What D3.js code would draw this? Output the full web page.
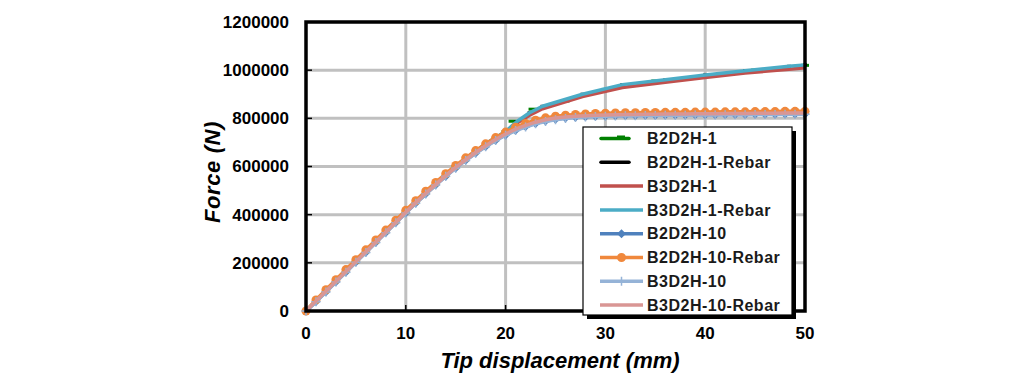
<!DOCTYPE html>
<html>
<head>
<meta charset="utf-8">
<script src="https://cdn.jsdelivr.net/npm/d3@7"></script>
<style>
  body { margin: 0; background: #ffffff; }
  svg { display: block; font-family: "Liberation Sans", Arial, sans-serif; }
</style>
</head>
<body>
<div id="space"></div>
<script>
// Declare constants
const WIDTH = 1012;
const HEIGHT = 387;
const PLOT = { left: 306, right: 805, top: 22, bottom: 311 };
const GRID_COLOR = "#c0c0c0";

// Tick values and labels (force in kN, labels shown in N)
const X_TICKS = [0, 10, 20, 30, 40, 50];
const Y_TICKS = [0, 200, 400, 600, 800, 1000, 1200];
const Y_TICK_LABELS = ["0", "200000", "400000", "600000", "800000", "1000000", "1200000"];

// Displacement points (mm)
const DISP_1 = [0, 5, 10, 15, 18, 20, 21.1, 22.4, 23.7, 27.7, 31.7, 36, 40, 44, 48.4, 50];
const DISP_1_MARK = [0, 5, 10, 15, 20, 20.7, 22.7, 26, 30, 35, 40, 45, 50];
const DISP_10 = [0, 1, 2, 3, 4, 5, 6, 7, 8, 9, 10, 11, 12, 13, 14, 15, 16, 17, 18, 19, 20,
  21, 22, 23, 24, 25, 26, 27, 28, 29, 30, 31, 32, 33, 34, 35, 36, 37, 38, 39, 40,
  41, 42, 43, 44, 45, 46, 47, 48, 49, 50];

// Force values (kN)
const F_B2D2H_1 = [0, 205, 410, 600, 745, 788, 838, 872, 920, 955, 978, 1000, 1020];
const F_B2D2H_1_REBAR = [0, 205, 410, 600, 694, 745, 786, 823, 850, 900, 940, 960, 980, 998, 1016, 1022];
const F_B3D2H_1 = [0, 205, 410, 600, 694, 743, 780, 813, 840, 890, 928, 950, 970, 988, 1004, 1010];
const F_B3D2H_1_REBAR = [0, 205, 410, 600, 694, 745, 786, 823, 850, 900, 940, 960, 980, 998, 1016, 1022];
const F_B2D2H_10 = [0, 39, 80, 121, 162, 203, 244, 285, 326, 367, 408, 448, 487, 524, 560, 594, 626, 656, 683, 709, 731,
  751, 766, 779, 789, 796, 801, 805, 807, 809, 810, 811, 812, 812, 813, 813, 814, 814, 814, 815, 815,
  815, 816, 816, 816, 817, 817, 817, 818, 818, 818];
const F_B2D2H_10_REBAR = [0, 46, 88, 130, 172, 213, 254, 295, 336, 377, 418, 458, 497, 534, 570, 604, 636, 666, 694, 720, 743,
  763, 779, 792, 802, 809, 813, 816, 818, 820, 821, 822, 823, 823, 824, 824, 825, 825, 825, 826, 826,
  826, 827, 827, 827, 828, 828, 828, 829, 829, 829];
const F_B3D2H_10 = [0, 38, 79, 120, 161, 202, 243, 284, 325, 366, 407, 447, 486, 523, 559, 593, 625, 655, 682, 708, 730,
  749, 764, 777, 787, 794, 799, 803, 806, 808, 809, 810, 811, 811, 812, 812, 813, 813, 813, 814, 814,
  814, 815, 815, 815, 816, 816, 816, 817, 817, 817];
const F_B3D2H_10_REBAR = [0, 41, 82, 123, 164, 205, 246, 287, 328, 369, 410, 450, 489, 526, 562, 596, 628, 658, 686, 712, 735,
  755, 771, 784, 794, 801, 806, 809, 811, 813, 814, 815, 816, 816, 817, 817, 818, 818, 818, 819, 819,
  819, 820, 820, 820, 821, 821, 821, 822, 822, 822];

// Series in drawing order
var series = [
  { name: "B2D2H-1", x: DISP_1_MARK, y: F_B2D2H_1, color: "#008000", line: false, marker: "dash" },
  { name: "B2D2H-1-Rebar", x: DISP_1, y: F_B2D2H_1_REBAR, color: "#000000", line: false, marker: "dash" },
  { name: "B3D2H-1", x: DISP_1, y: F_B3D2H_1, color: "#c0504d", line: true, marker: null },
  { name: "B3D2H-1-Rebar", x: DISP_1, y: F_B3D2H_1_REBAR, color: "#4bacc6", line: true, marker: null },
  { name: "B2D2H-10", x: DISP_10, y: F_B2D2H_10, color: "#4f81bd", line: true, marker: "diamond" },
  { name: "B2D2H-10-Rebar", x: DISP_10, y: F_B2D2H_10_REBAR, color: "#f0883c", line: true, marker: "circle" },
  { name: "B3D2H-10", x: DISP_10, y: F_B3D2H_10, color: "#95b3d7", line: true, marker: "plus" },
  { name: "B3D2H-10-Rebar", x: DISP_10, y: F_B3D2H_10_REBAR, color: "#d99694", line: true, marker: null },
];

var svg = d3.select("#space").append("svg").attr("width", WIDTH).attr("height", HEIGHT);

var xScale = d3.scaleLinear().domain([0, 50]).range([PLOT.left, PLOT.right]);
var yScale = d3.scaleLinear().domain([0, 1200]).range([PLOT.bottom, PLOT.top]);

drawGrid();
drawSeries();
drawFrame();
drawLegend();
drawTitles();

/**
 * Gridlines behind the data
 */
function drawGrid() {
  var g = svg.append("g");
  g.selectAll("line.gx")
    .data(X_TICKS.slice(1, -1))
    .enter()
    .append("line")
    .attr("x1", (d) => xScale(d))
    .attr("x2", (d) => xScale(d))
    .attr("y1", PLOT.top)
    .attr("y2", PLOT.bottom)
    .attr("stroke", GRID_COLOR)
    .attr("stroke-width", 3);
  g.selectAll("line.gy")
    .data(Y_TICKS.slice(1, -1))
    .enter()
    .append("line")
    .attr("y1", (d) => yScale(d))
    .attr("y2", (d) => yScale(d))
    .attr("x1", PLOT.left)
    .attr("x2", PLOT.right)
    .attr("stroke", GRID_COLOR)
    .attr("stroke-width", 3);
}

/**
 * Draws one marker shape at (0,0) inside a group
 */
function drawMarker(g, type, color, small) {
  if (type === "dash") {
    g.append("rect").attr("x", small ? -2 : -4).attr("y", -1.5)
      .attr("width", small ? 4 : 8).attr("height", 3).attr("fill", color);
  } else if (type === "diamond") {
    g.append("path").attr("d", "M0,-4.5L4.5,0L0,4.5L-4.5,0Z").attr("fill", color);
  } else if (type === "circle") {
    g.append("circle").attr("r", 4.5).attr("fill", color);
  } else if (type === "plus") {
    g.append("path").attr("d", "M-4.5,0H4.5M0,-4.5V4.5")
      .attr("stroke", color).attr("stroke-width", 1.5).attr("fill", "none");
  }
}

/**
 * Lines and markers for every series
 */
function drawSeries() {
  var line = d3.line()
    .x((d) => xScale(d[0]))
    .y((d) => yScale(d[1]));

  series.forEach(function (s) {
    var pts = s.x.map((v, i) => [v, s.y[i]]);
    var g = svg.append("g");
    if (s.line) {
      g.append("path")
        .attr("d", line(pts))
        .attr("fill", "none")
        .attr("stroke", s.color)
        .attr("stroke-width", 3.5)
        .attr("stroke-linejoin", "round");
    }
    if (s.marker) {
      pts.forEach(function (p) {
        var m = g.append("g").attr("transform", `translate(${xScale(p[0])},${yScale(p[1])})`);
        drawMarker(m, s.marker, s.color, s.name === "B2D2H-1-Rebar");
      });
    }
  });
}

/**
 * Plot frame, inside ticks and tick labels
 */
function drawFrame() {
  svg.append("rect")
    .attr("x", PLOT.left)
    .attr("y", PLOT.top)
    .attr("width", PLOT.right - PLOT.left)
    .attr("height", PLOT.bottom - PLOT.top)
    .attr("fill", "none")
    .attr("stroke", "#000")
    .attr("stroke-width", 3.5);

  // Y ticks and labels
  Y_TICKS.forEach(function (d, i) {
    svg.append("line")
      .attr("x1", PLOT.left).attr("x2", PLOT.left + 6)
      .attr("y1", yScale(d)).attr("y2", yScale(d))
      .attr("stroke", "#000").attr("stroke-width", 1.5);
    svg.append("text")
      .attr("x", 289)
      .attr("y", yScale(d))
      .attr("dy", "0.35em")
      .attr("text-anchor", "end")
      .attr("font-size", 17)
      .attr("font-weight", "bold")
      .attr("fill", "#000")
      .text(Y_TICK_LABELS[i]);
  });

  // X ticks and labels
  X_TICKS.forEach(function (d) {
    svg.append("line")
      .attr("x1", xScale(d)).attr("x2", xScale(d))
      .attr("y1", PLOT.bottom).attr("y2", PLOT.bottom - 6)
      .attr("stroke", "#000").attr("stroke-width", 1.5);
    svg.append("text")
      .attr("x", xScale(d))
      .attr("y", 338.5)
      .attr("text-anchor", "middle")
      .attr("font-size", 17)
      .attr("font-weight", "bold")
      .attr("fill", "#000")
      .text(d);
  });
}

/**
 * Legend box with shadow
 */
function drawLegend() {
  var box = { x: 583, y: 127, w: 209, h: 188 };
  svg.append("rect")
    .attr("x", box.x + 4).attr("y", box.y + 4)
    .attr("width", box.w).attr("height", box.h)
    .attr("fill", "#000");
  svg.append("rect")
    .attr("x", box.x).attr("y", box.y)
    .attr("width", box.w).attr("height", box.h)
    .attr("fill", "#fff")
    .attr("stroke", "#000")
    .attr("stroke-width", 1.2);

  series.forEach(function (s, i) {
    var cy = 138.5 + i * 23.8;
    var g = svg.append("g");
    if (s.line) {
      g.append("line")
        .attr("x1", 600).attr("x2", 643)
        .attr("y1", cy).attr("y2", cy)
        .attr("stroke", s.color).attr("stroke-width", 3.5);
      if (s.marker) {
        var m = g.append("g").attr("transform", `translate(621.5,${cy})`);
        drawMarker(m, s.marker, s.color, false);
      }
    } else {
      g.append("line")
        .attr("x1", 601).attr("x2", 629)
        .attr("y1", cy).attr("y2", cy)
        .attr("stroke", s.color).attr("stroke-width", 3.5)
        .attr("stroke-linecap", "round");
      if (s.name === "B2D2H-1") {
        g.append("rect").attr("x", 617).attr("y", cy - 3).attr("width", 8).attr("height", 3)
          .attr("fill", s.color);
      }
    }
    g.append("text")
      .attr("x", 647)
      .attr("y", cy)
      .attr("dy", "0.36em")
      .attr("font-size", 16)
      .attr("font-weight", "bold")
      .attr("letter-spacing", "0.5px")
      .attr("fill", "#1a1a1a")
      .text(s.name);
  });
}

/**
 * Axis titles
 */
function drawTitles() {
  svg.append("text")
    .attr("x", 560)
    .attr("y", 368)
    .attr("text-anchor", "middle")
    .attr("font-size", 22)
    .attr("font-weight", "bold")
    .attr("font-style", "italic")
    .attr("fill", "#000")
    .text("Tip displacement (mm)");

  svg.append("text")
    .attr("transform", "translate(220,172) rotate(-90)")
    .attr("text-anchor", "middle")
    .attr("font-size", 22)
    .attr("font-weight", "bold")
    .attr("font-style", "italic")
    .attr("letter-spacing", "0.6px")
    .attr("fill", "#000")
    .text("Force (N)");
}
</script>
</body>
</html>
